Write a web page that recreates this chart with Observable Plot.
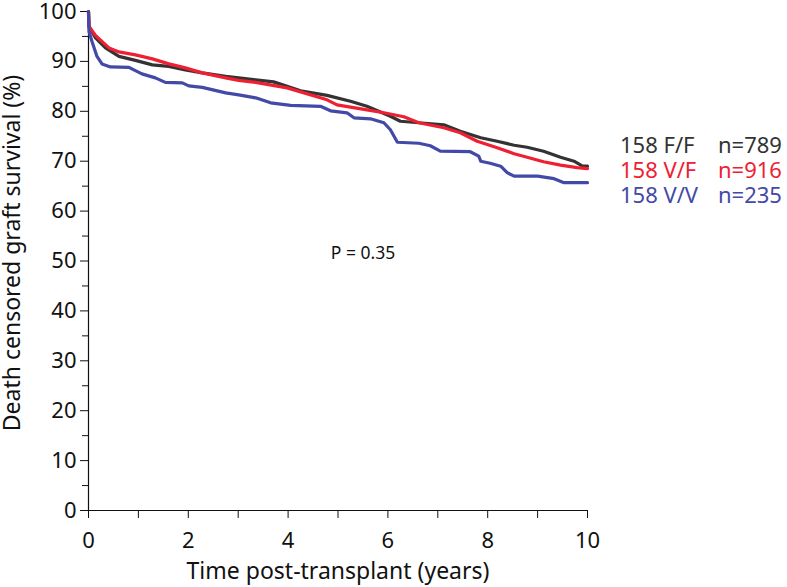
<!DOCTYPE html>
<html>
<head>
<meta charset="utf-8">
<script src="https://cdn.jsdelivr.net/npm/d3@7"></script>
<script src="https://cdn.jsdelivr.net/npm/@observablehq/plot@0.6"></script>
<style>
  html, body { margin: 0; padding: 0; background: #fff; }
  #wrap { position: relative; width: 787px; height: 587px; font-family: "Noto Sans", sans-serif; }
  #wrap svg { overflow: visible; }
  #wrap svg g[aria-label="x-axis label"] text { font-size: 23px; }
  .leg { position: absolute; left: 620px; font-size: 22px; line-height: 25px; white-space: nowrap; display: flex; }
  .leg span.g { display: inline-block; width: 98px; }
</style>
</head>
<body>
<div id="wrap"></div>
<script>
// Time (years) and survival (%) per genotype group
const tFF = [0, 0.01, 0.14, 0.34, 0.61, 0.94, 1.28, 1.61, 1.94, 2.28, 2.75, 3.01, 3.35, 3.71, 4.25, 4.78, 5.25, 5.58, 6.05, 6.25, 6.62, 7.12, 7.45, 7.86, 8.19, 8.53, 8.79, 9.12, 9.46, 9.73, 9.9, 10];
const sFF = [100, 97, 94.7, 92.7, 91, 90.2, 89.3, 89, 88.3, 87.7, 87, 86.7, 86.3, 85.9, 84.1, 83.2, 82, 81, 79, 78, 77.7, 77.3, 76, 74.7, 74, 73.2, 72.8, 72, 70.8, 70, 69, 69];
const tVF = [0, 0.01, 0.14, 0.41, 0.61, 0.94, 1.28, 1.61, 1.94, 2.28, 2.75, 3.01, 3.35, 3.98, 4.78, 4.98, 5.58, 5.92, 6.32, 6.62, 7.12, 7.45, 7.79, 8.19, 8.53, 8.79, 9.12, 9.46, 9.79, 10];
const sVF = [100, 97, 95.2, 92.7, 91.9, 91.3, 90.5, 89.5, 88.7, 87.7, 86.7, 86.2, 85.8, 84.7, 82.3, 81.3, 80.3, 79.7, 78.9, 77.7, 76.7, 75.7, 74, 72.7, 71.5, 70.8, 69.9, 69.2, 68.7, 68.5];
const tVV = [0, 0.01, 0.07, 0.17, 0.27, 0.44, 0.81, 0.97, 1.07, 1.34, 1.54, 1.88, 2.01, 2.28, 2.75, 3.01, 3.35, 3.65, 4.05, 4.65, 4.85, 5.18, 5.32, 5.65, 5.92, 6.05, 6.19, 6.62, 6.85, 7.05, 7.65, 7.82, 7.86, 8.05, 8.26, 8.39, 8.53, 9.0, 9.33, 9.53, 10];
const sVV = [100, 96, 94, 91, 89.5, 88.9, 88.8, 88, 87.5, 86.7, 85.8, 85.7, 85.1, 84.8, 83.7, 83.3, 82.7, 81.7, 81.2, 81, 80.1, 79.7, 78.7, 78.5, 77.7, 76.3, 73.8, 73.6, 73.1, 72, 71.9, 71, 70, 69.6, 69, 67.7, 67, 67, 66.5, 65.7, 65.7];

const groups = ["158 F/F", "158 V/F", "158 V/V"];
const counts = ["n=789", "n=916", "n=235"];
const colors = ["#333333", "#ee2032", "#4349a6"];
const pText = "P = 0.35";
const yLabel = "Death censored graft survival (%)";

const series = [[tFF, sFF], [tVF, sVF], [tVV, sVV]];
const data = series.flatMap(([t, s], i) => t.map((x, j) => ({ group: groups[i], t: x, s: s[j] })));

const plot = Plot.plot({
  width: 787,
  height: 587,
  marginLeft: 88,
  marginRight: 200,
  marginTop: 11,
  marginBottom: 77,
  style: { fontFamily: "Noto Sans, sans-serif", color: "#111", background: "#fff", overflow: "visible" },
  x: { domain: [0, 10] },
  y: { domain: [0, 100] },
  color: { domain: groups, range: colors },
  marks: [
    Plot.axisX({ ticks: d3.range(0, 11, 2), tickSize: 8, tickPadding: 14, fontSize: 22, label: "Time post-transplant (years)", labelAnchor: "center", labelArrow: "none", labelOffset: 68, stroke: "#111" }),
    Plot.axisX({ ticks: d3.range(1, 10, 2), tickSize: 8, text: null, label: null, stroke: "#111" }),
    Plot.axisY({ ticks: d3.range(0, 101, 10), tickSize: 8, tickPadding: 4, fontSize: 22, label: null, stroke: "#111" }),
    Plot.axisY({ ticks: d3.range(5, 100, 10), tickSize: 6, text: null, label: null, stroke: "#111" }),
    Plot.text([yLabel], { frameAnchor: "left", textAnchor: "middle", lineAnchor: "middle", rotate: -90, dx: -76, dy: -8, text: d => d, fontSize: 23, fill: "#111" }),
    Plot.ruleX([0], { stroke: "#111", strokeWidth: 1.2 }),
    Plot.ruleY([0], { stroke: "#111", strokeWidth: 1.2 }),
    Plot.line(data, { x: "t", y: "s", z: "group", stroke: "group", strokeWidth: 3.2, curve: "linear" }),
    Plot.text([pText], { x: 5.5, y: 51.5, text: d => d, fontSize: 17.5, fill: "#111" })
  ]
});

const wrap = document.getElementById("wrap");
wrap.appendChild(plot);
groups.forEach((g, i) => {
  const d = document.createElement("div");
  d.className = "leg";
  d.style.top = (132 + 25 * i) + "px";
  d.style.color = colors[i];
  d.innerHTML = '<span class="g">' + g + '</span><span class="n">' + counts[i] + '</span>';
  wrap.appendChild(d);
});
</script>
</body>
</html>
